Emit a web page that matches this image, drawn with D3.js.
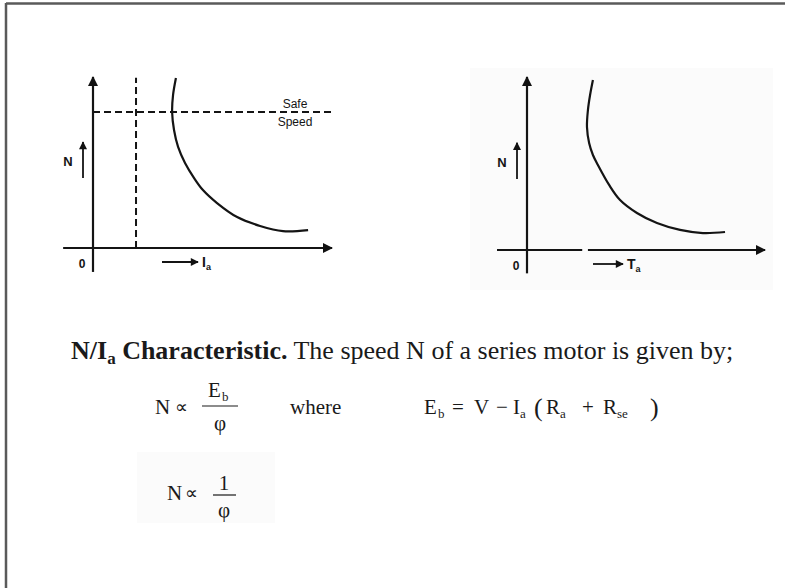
<!DOCTYPE html>
<html>
<head>
<meta charset="utf-8">
<script src="https://cdn.jsdelivr.net/npm/d3@7"></script>
<style>
  html, body { margin: 0; padding: 0; background: #fff; }
  svg { display: block; }
</style>
</head>
<body>
<svg id="chart" width="785" height="588"></svg>
<script>
// Speed vs armature current (left) and speed vs armature torque (right) of a DC series motor,
// both axes in percent of the drawn axis length
const currentX = [34.7, 33.5, 33.1, 33.9, 35.6, 38.5, 42.3, 46.0, 51.9, 60.3, 69.9, 79.5, 90.0];
const speedVsCurrent = [99.4, 89.5, 79.5, 69.0, 59.1, 49.7, 40.9, 33.9, 26.3, 18.1, 12.9, 9.9, 10.5];
const torqueX = [27.7, 26.5, 25.6, 25.2, 26.1, 27.7, 29.8, 34.5, 39.1, 46.2, 54.6, 64.3, 73.9, 83.2];
const speedVsTorque = [98.3, 89.6, 80.9, 71.1, 61.8, 54.9, 49.1, 37.6, 28.9, 21.4, 15.6, 11.6, 9.8, 10.4];
const safeSpeed = 79.5;       // horizontal dashed limit
const minCurrent = 18;        // vertical dashed limit
const safeLabel = ["Safe", "Speed"];

const svg = d3.select("#chart");

// faint backing patches behind the pasted figures
svg.append("rect").attr("x", 470).attr("y", 68).attr("width", 303).attr("height", 222).attr("fill", "#fbfbfb");
svg.append("rect").attr("x", 137).attr("y", 452).attr("width", 138).attr("height", 71).attr("fill", "#fbfbfb");

// page frame
svg.append("line").attr("x1", 6).attr("y1", 3.5).attr("x2", 785).attr("y2", 3.5)
  .attr("stroke", "#5a5a5a").attr("stroke-width", 2.5);
svg.append("line").attr("x1", 6).attr("y1", 3).attr("x2", 6).attr("y2", 588)
  .attr("stroke", "#5a5a5a").attr("stroke-width", 2.5);

const defs = svg.append("defs");
defs.append("marker").attr("id", "head").attr("viewBox", "0 0 10 10")
  .attr("refX", 9).attr("refY", 5).attr("markerWidth", 11).attr("markerHeight", 10)
  .attr("markerUnits", "userSpaceOnUse").attr("orient", "auto")
  .append("path").attr("d", "M0,0 L10,5 L0,10 z").attr("fill", "#111");
defs.append("marker").attr("id", "headSmall").attr("viewBox", "0 0 10 10")
  .attr("refX", 9).attr("refY", 5).attr("markerWidth", 9).attr("markerHeight", 8)
  .attr("markerUnits", "userSpaceOnUse").attr("orient", "auto")
  .append("path").attr("d", "M0,0 L10,5 L0,10 z").attr("fill", "#111");

const ink = "#141414";
const sans = "Liberation Sans, Arial, sans-serif";

function panel(opts) {
  const x = d3.scaleLinear().domain([0, 100]).range([opts.ox, opts.xEnd]);
  const y = d3.scaleLinear().domain([0, 100]).range([opts.oy, opts.yEnd]);
  const g = svg.append("g");

  // x axis (optionally with a small break)
  const xSegs = opts.gap
    ? [[opts.xMin, opts.gap[0]], [opts.gap[1], 100]]
    : [[opts.xMin, 100]];
  xSegs.forEach((s, i) => {
    const l = g.append("line")
      .attr("x1", x(s[0])).attr("y1", y(0)).attr("x2", x(s[1])).attr("y2", y(0))
      .attr("stroke", ink).attr("stroke-width", 2.2);
    if (i === xSegs.length - 1) l.attr("marker-end", "url(#head)");
  });
  // y axis
  g.append("line")
    .attr("x1", x(0)).attr("y1", y(opts.yMin)).attr("x2", x(0)).attr("y2", y(100))
    .attr("stroke", ink).attr("stroke-width", 2.2).attr("marker-end", "url(#head)");

  // characteristic curve
  const line = d3.line().x(d => x(d[0])).y(d => y(d[1])).curve(d3.curveCatmullRom.alpha(0.5));
  g.append("path").datum(opts.xs.map((v, i) => [v, opts.ys[i]]))
    .attr("d", line).attr("fill", "none").attr("stroke", ink).attr("stroke-width", 2.2);

  // origin label
  g.append("text").attr("x", x(0) - 11).attr("y", y(0) + 20)
    .attr("font-family", sans).attr("font-weight", "bold")
    .attr("font-size", 12).attr("text-anchor", "middle").attr("fill", ink).text("0");

  // N with upward arrow
  g.append("text").attr("x", opts.nX).attr("y", y(48))
    .attr("font-family", sans).attr("font-weight", "bold")
    .attr("font-size", 13).attr("text-anchor", "middle").attr("fill", ink).text("N");
  g.append("line").attr("x1", opts.nX + 15).attr("y1", y(41)).attr("x2", opts.nX + 15).attr("y2", y(62))
    .attr("stroke", ink).attr("stroke-width", 1.8).attr("marker-end", "url(#headSmall)");

  // x-direction arrow and axis symbol
  const ay = y(0) + 14;
  g.append("line").attr("x1", opts.arrowX[0]).attr("y1", ay).attr("x2", opts.arrowX[1]).attr("y2", ay)
    .attr("stroke", ink).attr("stroke-width", 1.8).attr("marker-end", "url(#headSmall)");
  const t = g.append("text").attr("x", opts.arrowX[1] + 4).attr("y", ay + 5)
    .attr("font-family", sans).attr("font-weight", "bold")
    .attr("font-size", 14).attr("fill", ink);
  t.append("tspan").text(opts.symbol);
  t.append("tspan").attr("font-size", 9).attr("dy", 3).text("a");

  return { g, x, y };
}

// N / Ia panel
const left = panel({
  ox: 93, oy: 248, xEnd: 332, yEnd: 77, xMin: -12.5, yMin: -14,
  xs: currentX, ys: speedVsCurrent, nX: 68, arrowX: [162, 198], symbol: "I"
});
left.g.append("line")
  .attr("x1", left.x(0)).attr("y1", left.y(safeSpeed)).attr("x2", left.x(100)).attr("y2", left.y(safeSpeed))
  .attr("stroke", ink).attr("stroke-width", 2).attr("stroke-dasharray", "7,4");
left.g.append("line")
  .attr("x1", left.x(minCurrent)).attr("y1", left.y(0)).attr("x2", left.x(minCurrent)).attr("y2", left.y(99.5))
  .attr("stroke", ink).attr("stroke-width", 2).attr("stroke-dasharray", "7,4");
left.g.selectAll("text.safe").data(safeLabel).join("text").attr("class", "safe")
  .attr("x", 295).attr("y", (d, i) => left.y(safeSpeed) + (i === 0 ? -4 : 14))
  .attr("font-family", sans)
  .attr("font-size", 12).attr("text-anchor", "middle").attr("fill", ink).text(d => d);

// N / Ta panel
panel({
  ox: 527, oy: 250, xEnd: 765, yEnd: 77, xMin: -12.6, yMin: -13.5, gap: [23.2, 25.6],
  xs: torqueX, ys: speedVsTorque, nX: 502, arrowX: [593, 623], symbol: "T"
});

// explanatory sentence
const serif = "Liberation Serif, 'Times New Roman', serif";
const textInk = "#1a1a1a";
const body = svg.append("text").attr("x", 71).attr("y", 359)
  .attr("font-family", serif).attr("font-size", 26).attr("fill", textInk);
body.append("tspan").attr("font-weight", "bold").text("N/I");
body.append("tspan").attr("font-weight", "bold").attr("font-size", 17).attr("dy", 5).text("a");
body.append("tspan").attr("font-weight", "bold").attr("dy", -5).text(" Characteristic.");
body.append("tspan").text(" The speed N of a series motor is given by;");

// formula glyph helper: [string, x, baseline, size, anchor]
function glyphs(list) {
  svg.append("g").selectAll("text").data(list).join("text")
    .attr("x", d => d[1]).attr("y", d => d[2])
    .attr("font-family", serif).attr("font-size", d => d[3])
    .attr("text-anchor", d => d[4] || "start").attr("fill", textInk)
    .text(d => d[0]);
}
function bar(x1, x2, y) {
  svg.append("line").attr("x1", x1).attr("x2", x2).attr("y1", y).attr("y2", y)
    .attr("stroke", textInk).attr("stroke-width", 1.2);
}

// N ∝ Eb / φ   where   Eb = V − Ia (Ra + Rse)
glyphs([
  ["N", 155, 414, 21], ["∝", 175, 413, 18],
  ["E", 208, 397, 21], ["b", 222, 401, 13],
  ["φ", 220, 430, 21, "middle"],
  ["where", 290, 414, 21],
  ["E", 424, 414, 21], ["b", 438, 418, 13],
  ["=", 452, 414, 21], ["V", 474, 414, 21], ["−", 496, 414, 21],
  ["I", 513, 414, 21], ["a", 520, 418, 13],
  ["(", 534, 416, 26], ["R", 546, 414, 21], ["a", 560, 418, 13],
  ["+", 582, 414, 21], ["R", 603, 414, 21], ["se", 617, 418, 13],
  [")", 650, 416, 26]
]);
bar(202, 238, 406);

// N ∝ 1 / φ
glyphs([
  ["N", 167, 500, 21], ["∝", 185, 499, 18],
  ["1", 224, 490, 21, "middle"],
  ["φ", 224, 517, 21, "middle"]
]);
bar(213, 236, 495);
</script>
</body>
</html>
